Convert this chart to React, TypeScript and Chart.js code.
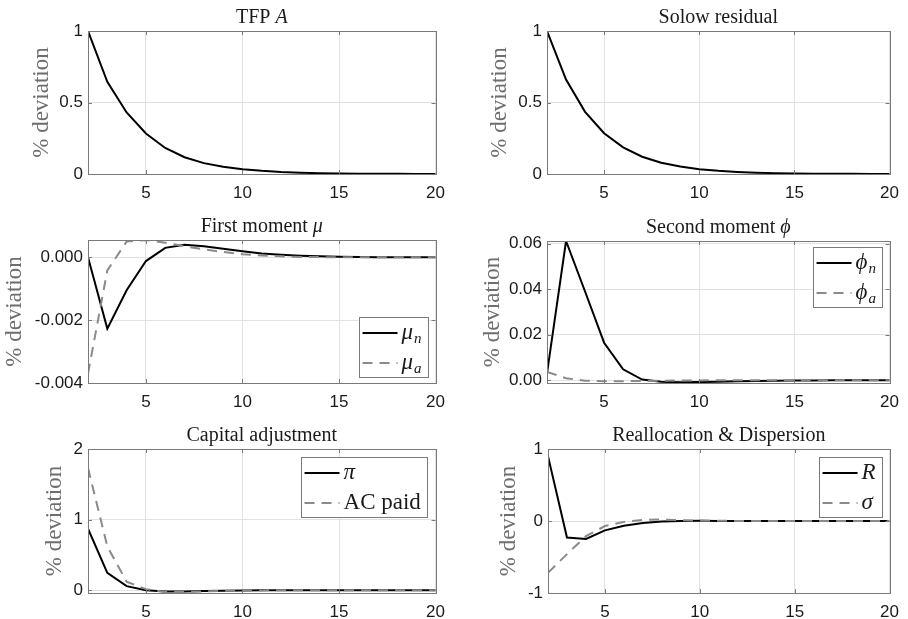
import React, { useEffect, useRef } from "react";
import { Chart, registerables } from "chart.js";

Chart.register(...registerables);

// ---------- data ----------
const periods = [2, 3, 4, 5, 6, 7, 8, 9, 10, 11, 12, 13, 14, 15, 16, 17, 18, 19, 20];
const xTickValues = [5, 10, 15, 20];

const tfpA = [1, 0.645, 0.43, 0.283, 0.182, 0.117, 0.076, 0.05, 0.033, 0.022, 0.014, 0.009, 0.006, 0.004, 0.0026, 0.0017, 0.0011, 0.0007, 0.0005];
const solowResidual = [1, 0.66, 0.435, 0.285, 0.186, 0.121, 0.079, 0.052, 0.034, 0.022, 0.0145, 0.0095, 0.006, 0.004, 0.0026, 0.0017, 0.0011, 0.0007, 0.0005];

const muN = [0, -0.00227, -0.00105, -0.00012, 0.0003, 0.0004, 0.00035, 0.00027, 0.00019, 0.00012, 0.00008, 0.00005, 0.00003, 0.00002, 0.00001, 0.000005, 0, 0, 0];
const muA = [-0.0037, -0.00042, 0.0005, 0.00055, 0.00046, 0.00035, 0.00025, 0.00017, 0.0001, 0.00006, 0.00003, 0.00001, 0.000005, 0, 0, 0, 0, 0, 0];

const phiN = [0.003, 0.0612, 0.039, 0.0165, 0.0048, 0.0003, -0.0007, -0.0009, -0.0008, -0.0006, -0.0004, -0.0003, -0.0002, -0.0001, -0.00005, 0, 0, 0, 0];
const phiA = [0.0037, 0.0009, -0.0002, -0.0004, -0.0004, -0.0003, -0.0002, -0.0001, -0.00005, 0, 0, 0, 0, 0, 0, 0, 0, 0, 0];

const capitalPi = [0.87, 0.245, 0.057, 0.0, -0.02, -0.02, -0.013, -0.008, -0.004, -0.002, -0.001, 0, 0, 0, 0, 0, 0, 0, 0];
const acPaid = [1.73, 0.62, 0.12, 0.015, -0.025, -0.025, -0.018, -0.01, -0.006, -0.003, -0.001, 0, 0, 0, 0, 0, 0, 0, 0];

const reallocationR = [0.9, -0.23, -0.25, -0.13, -0.065, -0.027, -0.008, 0, 0.002, 0.001, 0, 0, 0, 0, 0, 0, 0, 0, 0];
const dispersionSigma = [-0.72, -0.46, -0.21, -0.07, -0.012, 0.015, 0.02, 0.012, 0.006, 0.003, 0.001, 0, 0, 0, 0, 0, 0, 0, 0];

const yTicksTfp = [0, 0.5, 1];
const yLabelsTfp = ["0", "0.5", "1"];
const yTicksMu = [-0.004, -0.002, 0];
const yLabelsMu = ["-0.004", "-0.002", "0.000"];
const yTicksPhi = [0, 0.02, 0.04, 0.06];
const yLabelsPhi = ["0.00", "0.02", "0.04", "0.06"];
const yTicksCap = [0, 1, 2];
const yLabelsCap = ["0", "1", "2"];
const yTicksRe = [-1, 0, 1];
const yLabelsRe = ["-1", "0", "1"];

const yAxisLabel = "% deviation";

// ---------- styles ----------
const SERIF = "'Liberation Serif', 'DejaVu Serif', serif";
const SANS = "'Liberation Sans', Arial, sans-serif";
const SOLID_COLOR = "#000000";
const DASH_COLOR = "#8a8a8a";
const DASH = [10, 7];
const BOX_COLOR = "#7a7a7a";
const GRID_COLOR = "#e2e2e2";

type Series = { label: string; values: number[]; dashed: boolean; main: string; sub: string; italic: boolean };
type PanelSpec = {
  key: string;
  left: number;
  top: number;
  width: number;
  height: number;
  area: { left: number; right: number; top: number; bottom: number };
  yMin: number;
  yMax: number;
  yTicks: number[];
  yLabels: string[];
  title: [string, boolean][];
  series: Series[];
  legend: null | { corner: "tr" | "br"; dx: number; dy: number };
  yTitleCenter: number;
};

const boxPlugin = {
  id: "matlabBox",
  afterDatasetsDraw(chart: any) {
    const { ctx, chartArea: a, scales } = chart;
    ctx.save();
    ctx.strokeStyle = BOX_COLOR;
    ctx.lineWidth = 1;
    ctx.strokeRect(Math.round(a.left) + 0.5, Math.round(a.top) + 0.5, Math.round(a.right - a.left), Math.round(a.bottom - a.top));
    ctx.beginPath();
    for (const t of scales.x.ticks) {
      const px = Math.round(scales.x.getPixelForValue(t.value)) + 0.5;
      ctx.moveTo(px, a.bottom);
      ctx.lineTo(px, a.bottom - 4);
      ctx.moveTo(px, a.top);
      ctx.lineTo(px, a.top + 4);
    }
    for (const t of scales.y.ticks) {
      const py = Math.round(scales.y.getPixelForValue(t.value)) + 0.5;
      ctx.moveTo(a.left, py);
      ctx.lineTo(a.left + 4, py);
      ctx.moveTo(a.right, py);
      ctx.lineTo(a.right - 4, py);
    }
    ctx.stroke();
    ctx.restore();
  },
};

const richTitlePlugin = {
  id: "richTitle",
  afterDraw(chart: any, _args: any, opts: any) {
    if (!opts || !opts.segments) return;
    const { ctx, chartArea: a } = chart;
    ctx.save();
    const fontFor = (it: boolean) => `${it ? "italic " : ""}20px ${SERIF}`;
    let total = 0;
    const widths = opts.segments.map((s: [string, boolean]) => {
      ctx.font = fontFor(s[1]);
      const w = ctx.measureText(s[0]).width;
      total += w;
      return w;
    });
    let x = (a.left + a.right) / 2 - total / 2;
    const y = a.top - 8;
    ctx.fillStyle = "#1a1a1a";
    ctx.textBaseline = "alphabetic";
    ctx.textAlign = "left";
    opts.segments.forEach((s: [string, boolean], i: number) => {
      ctx.font = fontFor(s[1]);
      ctx.fillText(s[0], x, y);
      x += widths[i];
    });
    ctx.restore();
  },
};

const legendPlugin = {
  id: "irfLegend",
  afterDraw(chart: any, _args: any, opts: any) {
    if (!opts || !opts.entries) return;
    const { ctx, chartArea: a } = chart;
    const mainFont = (it: boolean) => `${it ? "italic " : ""}23px ${SERIF}`;
    const subFont = `italic 15px ${SERIF}`;
    ctx.save();
    let textW = 0;
    for (const e of opts.entries) {
      ctx.font = mainFont(e.italic);
      let w = ctx.measureText(e.main).width;
      if (e.sub) {
        ctx.font = subFont;
        w += ctx.measureText(e.sub).width + 1;
      }
      textW = Math.max(textW, w);
    }
    const lineLen = 35;
    const padL = 4;
    const gap = 4;
    const padR = 6;
    const w = Math.round(padL + lineLen + gap + textW + padR);
    const h = 60;
    const right = a.right - opts.dx;
    const left = right - w;
    const top = opts.corner === "tr" ? a.top + opts.dy : a.bottom - opts.dy - h;
    ctx.fillStyle = "#ffffff";
    ctx.fillRect(left, top, w, h);
    ctx.strokeStyle = BOX_COLOR;
    ctx.lineWidth = 1;
    ctx.strokeRect(Math.round(left) + 0.5, Math.round(top) + 0.5, w, h);
    opts.entries.forEach((e: any, i: number) => {
      const cy = top + 16 + i * 30;
      ctx.beginPath();
      ctx.setLineDash(e.dashed ? DASH : []);
      ctx.strokeStyle = e.dashed ? DASH_COLOR : SOLID_COLOR;
      ctx.lineWidth = 2;
      ctx.moveTo(left + padL, cy);
      ctx.lineTo(left + padL + lineLen, cy);
      ctx.stroke();
      ctx.setLineDash([]);
      ctx.fillStyle = "#1a1a1a";
      ctx.textAlign = "left";
      ctx.textBaseline = "middle";
      ctx.font = mainFont(e.italic);
      const tx = left + padL + lineLen + gap;
      ctx.fillText(e.main, tx, cy);
      if (e.sub) {
        const mw = ctx.measureText(e.main).width;
        ctx.font = subFont;
        ctx.fillText(e.sub, tx + mw + 1, cy + 6);
      }
    });
    ctx.restore();
  },
};

function buildConfig(spec: PanelSpec): any {
  const a = spec.area;
  return {
    type: "line",
    data: {
      datasets: spec.series.map((s) => ({
        label: s.label,
        data: periods.map((x, i) => ({ x, y: s.values[i] })),
        borderColor: s.dashed ? DASH_COLOR : SOLID_COLOR,
        borderWidth: 2,
        borderDash: s.dashed ? DASH : [],
        pointRadius: 0,
        fill: false,
        tension: 0,
        order: s.dashed ? 0 : 1,
      })),
    },
    options: {
      animation: false,
      responsive: false,
      maintainAspectRatio: false,
      events: [],
      layout: { padding: { left: 0, top: a.top, right: spec.width - a.right, bottom: 0 } },
      plugins: {
        legend: { display: false },
        tooltip: { enabled: false },
        title: { display: false },
        richTitle: { segments: spec.title },
        irfLegend: spec.legend
          ? {
              corner: spec.legend.corner,
              dx: spec.legend.dx,
              dy: spec.legend.dy,
              entries: spec.series.map((s) => ({ main: s.main, sub: s.sub, italic: s.italic, dashed: s.dashed })),
            }
          : {},
      },
      scales: {
        x: {
          type: "linear",
          min: 2,
          max: 20,
          afterBuildTicks: (s: any) => {
            s.ticks = xTickValues.map((v) => ({ value: v }));
          },
          afterFit: (s: any) => {
            s.height = spec.height - a.bottom;
          },
          grid: { color: GRID_COLOR, drawTicks: false, lineWidth: 1 },
          border: { display: false },
          ticks: {
            autoSkip: false,
            maxRotation: 0,
            padding: 9,
            color: "#1a1a1a",
            font: { family: SANS, size: 17 },
            callback: (v: number) => String(v),
          },
        },
        y: {
          type: "linear",
          min: spec.yMin,
          max: spec.yMax,
          afterBuildTicks: (s: any) => {
            s.ticks = spec.yTicks.map((v) => ({ value: v }));
          },
          afterFit: (s: any) => {
            s.width = a.left;
          },
          grid: { color: GRID_COLOR, drawTicks: false, lineWidth: 1 },
          border: { display: false },
          ticks: {
            padding: 5,
            color: "#1a1a1a",
            font: { family: SANS, size: 17 },
            callback: (v: number) => {
              const idx = spec.yTicks.findIndex((t) => Math.abs(t - v) < 1e-12);
              return idx >= 0 ? spec.yLabels[idx] : "";
            },
          },
          title: {
            display: true,
            text: yAxisLabel,
            color: "#6e6e6e",
            font: { family: SERIF, size: 23 },
            padding: { top: Math.max(0, spec.yTitleCenter - 13.8), bottom: 0 },
          },
        },
      },
    },
    plugins: [boxPlugin, richTitlePlugin, legendPlugin],
  };
}

const panels: PanelSpec[] = [
  {
    key: "tfp",
    left: 0, top: 0, width: 454, height: 205,
    area: { left: 88, right: 437, top: 31, bottom: 174 },
    yMin: 0, yMax: 1, yTicks: yTicksTfp, yLabels: yLabelsTfp,
    title: [["TFP ", false], ["A", true]],
    series: [{ label: "TFP A", values: tfpA, dashed: false, main: "A", sub: "", italic: true }],
    legend: null,
    yTitleCenter: 42,
  },
  {
    key: "solow",
    left: 454, top: 0, width: 454, height: 205,
    area: { left: 93, right: 443, top: 31, bottom: 174 },
    yMin: 0, yMax: 1, yTicks: yTicksTfp, yLabels: yLabelsTfp,
    title: [["Solow residual", false]],
    series: [{ label: "Solow residual", values: solowResidual, dashed: false, main: "", sub: "", italic: false }],
    legend: null,
    yTitleCenter: 46,
  },
  {
    key: "mu",
    left: 0, top: 205, width: 454, height: 205,
    area: { left: 88, right: 437, top: 35, bottom: 178 },
    yMin: -0.004, yMax: 0.00055, yTicks: yTicksMu, yLabels: yLabelsMu,
    title: [["First moment ", false], ["μ", true]],
    series: [
      { label: "μn", values: muN, dashed: false, main: "μ", sub: "n", italic: true },
      { label: "μa", values: muA, dashed: true, main: "μ", sub: "a", italic: true },
    ],
    legend: { corner: "br", dx: 8, dy: 6 },
    yTitleCenter: 15,
  },
  {
    key: "phi",
    left: 454, top: 205, width: 454, height: 205,
    area: { left: 93, right: 443, top: 36, bottom: 178 },
    yMin: -0.0012, yMax: 0.0612, yTicks: yTicksPhi, yLabels: yLabelsPhi,
    title: [["Second moment ", false], ["ϕ", true]],
    series: [
      { label: "ϕn", values: phiN, dashed: false, main: "ϕ", sub: "n", italic: true },
      { label: "ϕa", values: phiA, dashed: true, main: "ϕ", sub: "a", italic: true },
    ],
    legend: { corner: "tr", dx: 8, dy: 6 },
    yTitleCenter: 38.5,
  },
  {
    key: "cap",
    left: 0, top: 410, width: 454, height: 209,
    area: { left: 88, right: 437, top: 39, bottom: 183 },
    yMin: -0.04, yMax: 2, yTicks: yTicksCap, yLabels: yLabelsCap,
    title: [["Capital adjustment", false]],
    series: [
      { label: "π", values: capitalPi, dashed: false, main: "π", sub: "", italic: true },
      { label: "AC paid", values: acPaid, dashed: true, main: "AC paid", sub: "", italic: false },
    ],
    legend: { corner: "tr", dx: 9, dy: 8 },
    yTitleCenter: 55,
  },
  {
    key: "realloc",
    left: 454, top: 410, width: 454, height: 209,
    area: { left: 94, right: 443, top: 39, bottom: 183 },
    yMin: -1, yMax: 1, yTicks: yTicksRe, yLabels: yLabelsRe,
    title: [["Reallocation & Dispersion", false]],
    series: [
      { label: "R", values: reallocationR, dashed: false, main: "R", sub: "", italic: true },
      { label: "σ", values: dispersionSigma, dashed: true, main: "σ", sub: "", italic: true },
    ],
    legend: { corner: "tr", dx: 8, dy: 8 },
    yTitleCenter: 55,
  },
];

function PanelChart({ spec }: { spec: PanelSpec }) {
  const ref = useRef<HTMLCanvasElement>(null);
  useEffect(() => {
    if (!ref.current) return;
    const chart = new Chart(ref.current, buildConfig(spec));
    return () => chart.destroy();
  }, [spec]);
  return (
    <canvas
      ref={ref}
      width={spec.width}
      height={spec.height}
      style={{ position: "absolute", left: spec.left, top: spec.top, width: spec.width, height: spec.height, display: "block" }}
    />
  );
}

export default function App() {
  return (
    <div style={{ position: "absolute", left: 0, top: 0, width: 908, height: 619, background: "#ffffff", overflow: "hidden" }}>
      {panels.map((p) => (
        <PanelChart key={p.key} spec={p} />
      ))}
    </div>
  );
}
